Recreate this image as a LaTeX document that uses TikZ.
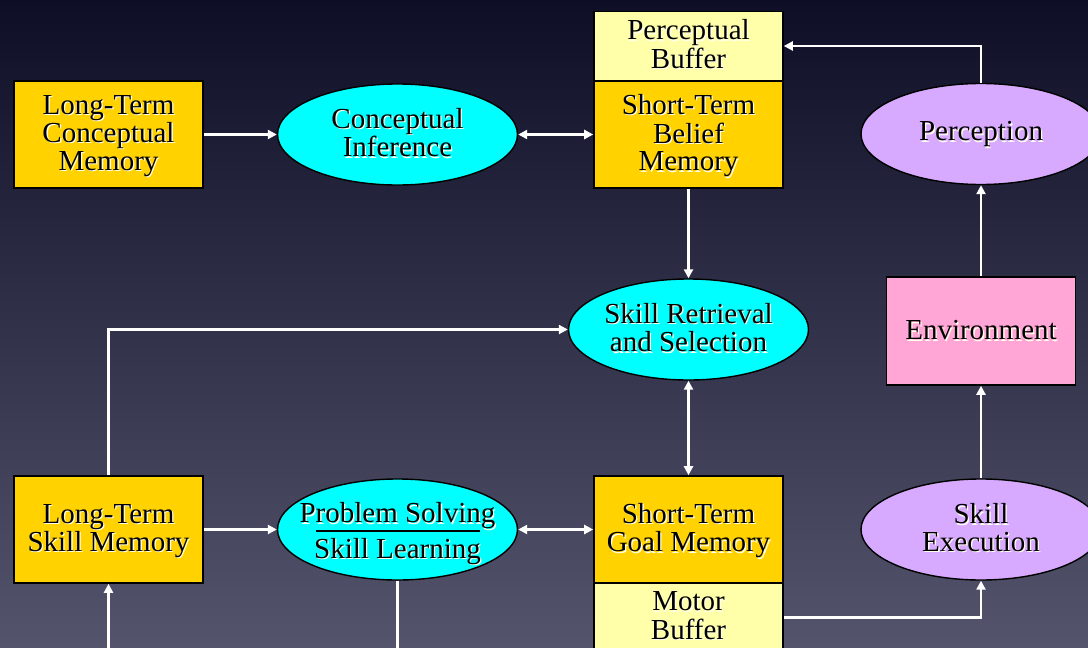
\documentclass[tikz,border=0pt]{standalone}
\usepackage{fontspec}
\setmainfont{Liberation Serif}
\usetikzlibrary{arrows.meta,shapes.geometric,calc}

\definecolor{bgtop}{RGB}{14,15,38}
\definecolor{bgbot}{RGB}{84,84,108}
\definecolor{memgold}{RGB}{255,210,0}
\definecolor{bufpale}{RGB}{255,255,170}
\definecolor{proccyan}{RGB}{0,255,255}
\definecolor{proclav}{RGB}{215,170,255}
\definecolor{envpink}{RGB}{255,166,214}
\definecolor{glowc}{RGB}{255,255,236}

% one line of label text with a soft light shadow behind it
\newcommand\gl[1]{\makebox[0pt][l]{\hspace{1.3pt}\raisebox{-1.3pt}{\textcolor{glowc}{#1}}}#1}
% centred stack of lines, set a little low, that does not widen its shape
\newcommand\lstack[1]{\raisebox{-2.2pt}[\height][\depth]{%
  \makebox[0pt]{\begin{tabular}{@{}c@{}}#1\end{tabular}}}}

\begin{document}
\begin{tikzpicture}[x=1pt,y=-1pt,
  every node/.style={font=\fontsize{29}{27.5}\selectfont, inner sep=0pt},
  box/.style={draw=black, line width=1.6pt, rectangle,
    minimum width=189pt, minimum height=107pt},
  membox/.style={box, fill=memgold},
  bufbox/.style={box, fill=bufpale, minimum height=69pt},
  envbox/.style={box, fill=envpink, minimum height=108pt},
  proc/.style={draw=black, line width=1.4pt, ellipse,
    minimum width=240pt, minimum height=101pt},
  cyanproc/.style={proc, fill=proccyan},
  lavproc/.style={proc, fill=proclav},
  flow/.style={draw=white, line width=2.6pt, -{Triangle[length=9pt,width=9pt]}},
  both/.style={draw=white, line width=2.6pt,
    {Triangle[length=9pt,width=9pt]}-{Triangle[length=9pt,width=9pt]}},
  link/.style={draw=white, line width=2.6pt}
]
% backdrop
\shade[top color=bgtop, bottom color=bgbot] (0,0) rectangle (1088,648);
\useasboundingbox (0,0) rectangle (1088,648);

% memories and buffers
\node[membox] (ltcm) at (108.5,134.5) {\lstack{\gl{Long-Term}\\\gl{Conceptual}\\\gl{Memory}}};
\node[bufbox] (pb) at (688.5,46) {\lstack{\gl{Perceptual}\\\gl{Buffer}}};
\node[membox] (stbm) at (688.5,134.5) {\lstack{\gl{Short-Term}\\\gl{Belief}\\\gl{Memory}}};
\node[membox] (ltsm) at (108.5,529.5) {\lstack{\gl{Long-Term}\\\gl{Skill Memory}}};
\node[membox] (stgm) at (688.5,529.5) {\lstack{\gl{Short-Term}\\\gl{Goal Memory}}};
\node[bufbox] (mb) at (688.5,617.5) {\lstack{\gl{Motor}\\\gl{Buffer}}};
\node[envbox] (env) at (981,331) {\gl{Environment}};

% processes
\node[cyanproc] (ci) at (397.5,134.5) {\lstack{\gl{Conceptual}\\\gl{Inference}}};
\node[cyanproc] (srs) at (688.5,329.5) {\lstack{\gl{Skill Retrieval}\\\gl{and Selection}}};
\node[cyanproc] (ps) at (397.5,529.5)
  {\raisebox{-3pt}[\height][\depth]{\lstack{\gl{Problem Solving}\\[7pt]\gl{Skill Learning}}}};
\node[lavproc] (perc) at (981,134) {\raisebox{-1pt}[\height][\depth]{\gl{Perception}}};
\node[lavproc] (sexe) at (981,529.5) {\lstack{\gl{Skill}\\\gl{Execution}}};

% divider between the two activities of the problem solver
\draw[black, line width=1.5pt] ($(ps.center)+(-82,1.5)$) -- ($(ps.center)+(82,1.5)$);

% connectors
\draw[flow] (ltcm.east) -- (ci.west);
\draw[both] (ci.east) -- (stbm.west);
\draw[flow] (perc.north) |- (pb.east);
\draw[flow] (stbm.south) -- (srs.north);
\draw[flow] (ltsm.north) |- (srs.west);
\draw[both] (srs.south) -- (stgm.north);
\draw[flow] (ltsm.east) -- (ps.west);
\draw[both] (ps.east) -- (stgm.west);
\draw[flow] (mb.east) -| (sexe.south);
\draw[flow] (sexe.north) -- (env.south);
\draw[flow] (env.north) -- (perc.south);
\coordinate (psout) at (397.5,655);
\coordinate (ltsmin) at (108.5,655);
\draw[link] (ps.south) -- (psout);
\draw[flow] (ltsmin) -- (ltsm.south);
\end{tikzpicture}
\end{document}
